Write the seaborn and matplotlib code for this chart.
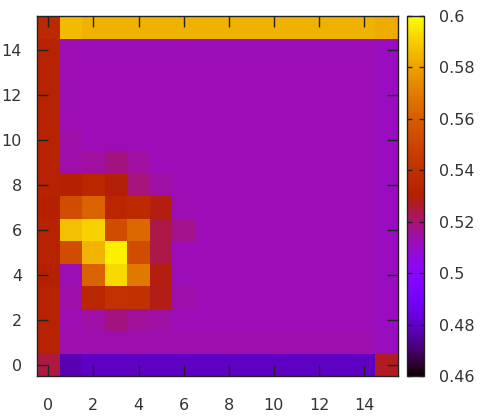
import matplotlib
matplotlib.use("Agg")
import matplotlib.pyplot as plt
import seaborn as sns
import numpy as np

# one list per grid row, y = 0 (bottom) .. 15 (top), x = 0..15
row_0 = [0.524, 0.477, 0.4796, 0.4796, 0.4796, 0.4796, 0.4796, 0.4796, 0.4796, 0.4796, 0.4796, 0.4796, 0.4796, 0.4796, 0.4796, 0.527]
row_1 = [0.532, 0.5135, 0.5135, 0.5135, 0.5135, 0.5135, 0.5135, 0.5135, 0.5135, 0.5135, 0.5135, 0.5135, 0.5135, 0.5135, 0.5135, 0.511]
row_2 = [0.532, 0.513, 0.5146, 0.518, 0.5157, 0.5146, 0.512, 0.512, 0.512, 0.512, 0.512, 0.512, 0.512, 0.512, 0.512, 0.511]
row_3 = [0.532, 0.514, 0.534, 0.5405, 0.540, 0.528, 0.514, 0.512, 0.512, 0.512, 0.512, 0.512, 0.512, 0.512, 0.512, 0.511]
row_4 = [0.530, 0.513, 0.562, 0.5926, 0.569, 0.5286, 0.512, 0.512, 0.512, 0.512, 0.512, 0.512, 0.512, 0.512, 0.512, 0.511]
row_5 = [0.532, 0.5535, 0.5846, 0.597, 0.5535, 0.5237, 0.512, 0.512, 0.512, 0.512, 0.512, 0.512, 0.512, 0.512, 0.512, 0.511]
row_6 = [0.532, 0.587, 0.591, 0.5535, 0.5636, 0.5237, 0.5174, 0.512, 0.512, 0.512, 0.512, 0.512, 0.512, 0.512, 0.512, 0.511]
row_7 = [0.5305, 0.5535, 0.562, 0.534, 0.537, 0.5286, 0.513, 0.512, 0.512, 0.512, 0.512, 0.512, 0.512, 0.512, 0.512, 0.511]
row_8 = [0.532, 0.531, 0.534, 0.529, 0.519, 0.5145, 0.512, 0.512, 0.512, 0.512, 0.512, 0.512, 0.512, 0.512, 0.512, 0.511]
row_9 = [0.532, 0.514, 0.515, 0.518, 0.515, 0.512, 0.512, 0.512, 0.512, 0.512, 0.512, 0.512, 0.512, 0.512, 0.512, 0.511]
row_10 = [0.532, 0.514, 0.512, 0.512, 0.512, 0.512, 0.512, 0.512, 0.512, 0.512, 0.512, 0.512, 0.512, 0.512, 0.512, 0.511]
row_11 = [0.532, 0.513, 0.512, 0.512, 0.512, 0.512, 0.512, 0.512, 0.512, 0.512, 0.512, 0.512, 0.512, 0.512, 0.512, 0.511]
row_12 = [0.532, 0.513, 0.512, 0.512, 0.512, 0.512, 0.512, 0.512, 0.512, 0.512, 0.512, 0.512, 0.512, 0.512, 0.512, 0.511]
row_13 = [0.532, 0.513, 0.512, 0.512, 0.512, 0.512, 0.512, 0.512, 0.512, 0.512, 0.512, 0.512, 0.512, 0.512, 0.512, 0.511]
row_14 = [0.532, 0.513, 0.512, 0.512, 0.512, 0.512, 0.512, 0.512, 0.512, 0.512, 0.512, 0.512, 0.512, 0.512, 0.512, 0.511]
row_15 = [0.536, 0.586, 0.584, 0.584, 0.584, 0.584, 0.584, 0.584, 0.584, 0.584, 0.584, 0.584, 0.584, 0.584, 0.584, 0.582]

tick_vals = [0, 2, 4, 6, 8, 10, 12, 14]
cb_ticks = [0.46, 0.48, 0.5, 0.52, 0.54, 0.56, 0.58, 0.6]
cb_labels = ["0.46", "0.48", "0.5", "0.52", "0.54", "0.56", "0.58", "0.6"]

grid = np.array([row_0, row_1, row_2, row_3, row_4, row_5, row_6, row_7,
                 row_8, row_9, row_10, row_11, row_12, row_13, row_14, row_15])

plt.rcParams['font.family'] = ['DejaVu Sans']
plt.rcParams['font.size'] = 11.5
txt = '#333333'

fig = plt.figure(figsize=(4.82, 4.17), dpi=100)
ax = fig.add_axes([0.0768, 0.0983, 0.749, 0.8633])
cax = fig.add_axes([0.8438, 0.0983, 0.036, 0.8633])

sns.heatmap(grid, ax=ax, cbar_ax=cax, cmap='gnuplot', vmin=0.46, vmax=0.6,
            xticklabels=False, yticklabels=False)
ax.invert_yaxis()

ax.set_xticks([v + 0.5 for v in tick_vals])
ax.set_xticklabels([str(v) for v in tick_vals])
ax.set_yticks([v + 0.5 for v in tick_vals])
ax.set_yticklabels([str(v) for v in tick_vals], rotation=0)
ax.tick_params(axis='x', direction='in', length=8, width=1, top=True, bottom=True,
               pad=15.5, labelcolor=txt, color='#222222')
ax.tick_params(axis='y', direction='in', length=8, width=1, left=True, right=True,
               pad=10.8, labelcolor=txt, color='#222222')
for s in ax.spines.values():
    s.set_visible(True)
    s.set_linewidth(1)
    s.set_color('#222222')

cb = ax.collections[0].colorbar
cb.outline.set_linewidth(1)
cb.outline.set_edgecolor('#222222')
cb.set_ticks(cb_ticks)
cb.set_ticklabels(cb_labels)
cax.tick_params(direction='in', length=3.5, width=1, left=True, right=True,
                labelleft=False, labelright=True, pad=11, labelcolor=txt, color='#222222')

plt.savefig("out.png", dpi=100)
